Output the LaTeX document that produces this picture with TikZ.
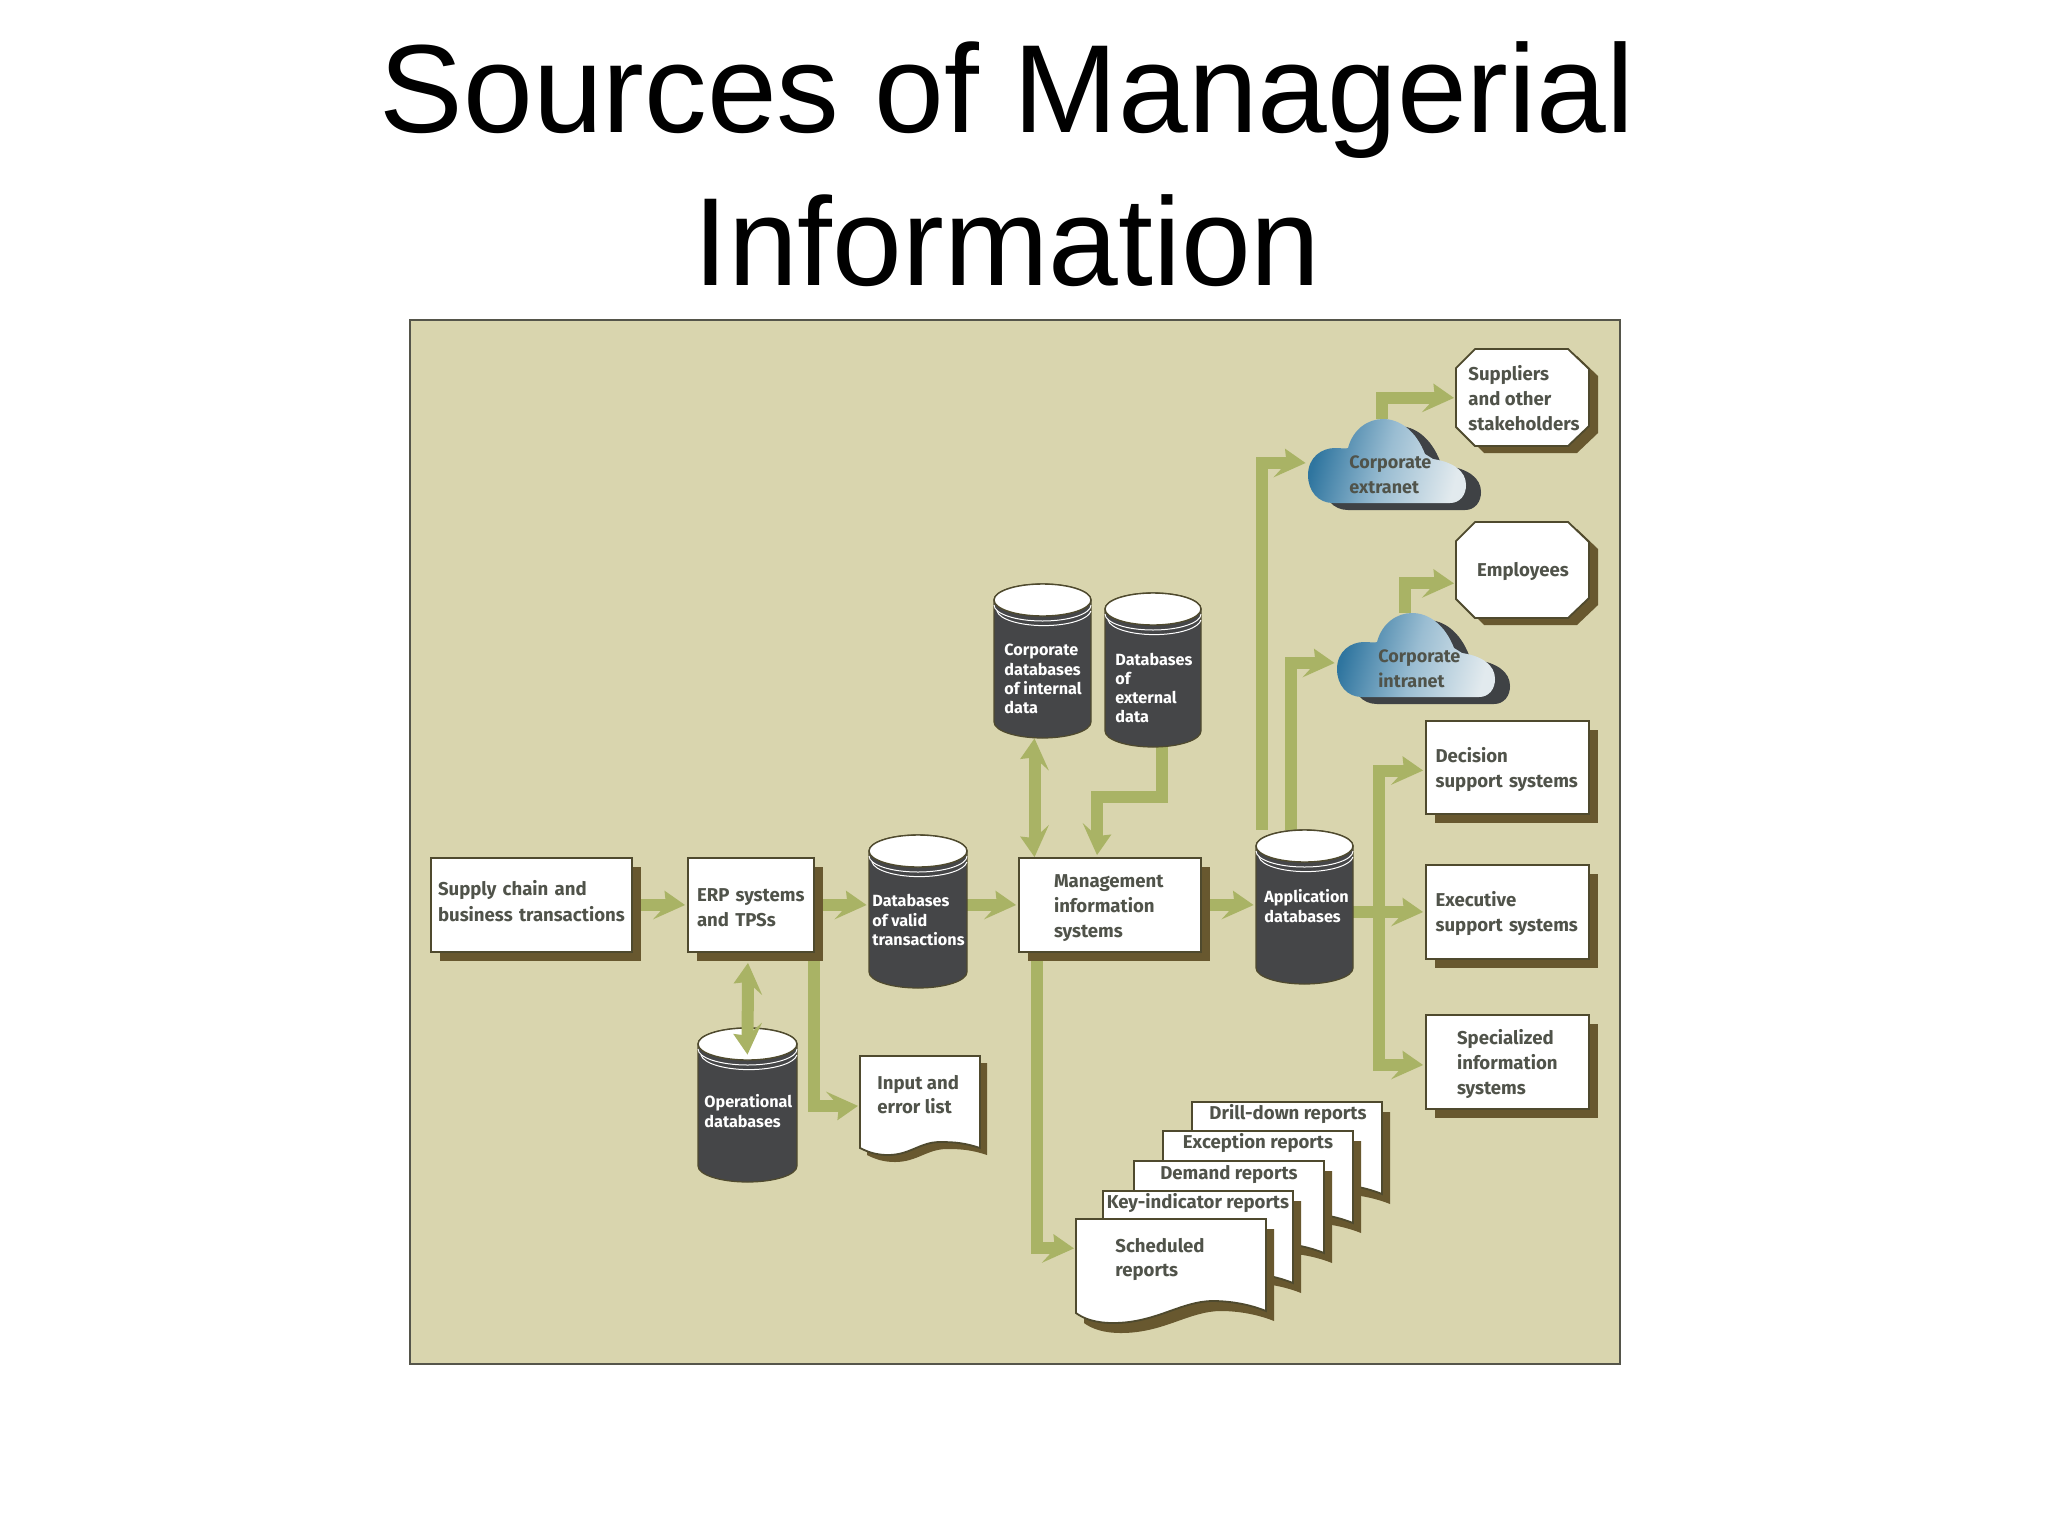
\documentclass[tikz,border=0pt]{standalone}
\usepackage{fontspec}
\setmainfont{Fira Sans}
\newfontfamily\titlefont{Liberation Sans}
\usetikzlibrary{arrows.meta,shadows}
\definecolor{panelc}{HTML}{D9D5AE}
\definecolor{panelb}{HTML}{55554A}
\definecolor{flowc}{HTML}{A9B365}
\definecolor{shadc}{HTML}{68582F}
\definecolor{edgec}{HTML}{4F4A2E}
\definecolor{txtc}{HTML}{50534A}
\definecolor{cylc}{HTML}{454648}
\definecolor{cldsh}{HTML}{3F4245}
\definecolor{cloudl}{HTML}{2F759F}
\definecolor{cloudm}{HTML}{9ABDD2}
\definecolor{cloudr}{HTML}{E2EAEE}
\pgfdeclarelayer{bgl}
\pgfdeclarelayer{arrowl}
\pgfsetlayers{bgl,arrowl,main}
\tikzset{
 headpos/.tip={Stealth[length=13pt,width=14pt,inset=3.5pt,slant=.4]},
 headneg/.tip={Stealth[length=13pt,width=14pt,inset=3.5pt,slant=-.4]},
 flow/.style={draw=flowc,line width=6pt,line join=miter,-headpos,shorten >=1pt},
 flowneg/.style={draw=flowc,line width=6pt,line join=miter,-headneg,shorten >=1pt},
 flowboth/.style={draw=flowc,line width=6pt,headpos-headneg},
 lbl/.style={text=txtc,font=\fontsize{9.3}{12.4}\selectfont\bfseries,align=left,inner sep=0pt},
 clbl/.style={text=white,font=\fontsize{8.1}{9.6}\selectfont\bfseries,align=left,inner sep=0pt},
 cloudlbl/.style={text=txtc,font=\fontsize{9}{12.3}\selectfont\bfseries,align=left,inner sep=0pt},
 box/.style={draw=edgec,line width=0.9pt,fill=white,rectangle,inner sep=0pt,lbl,
   execute at begin node={\hyphenpenalty=10000\rule{0pt}{9.4pt}},
   general shadow={fill=shadc,shadow xshift=4.5pt,shadow yshift=-4.5pt}},
 sheet/.style={draw=edgec,line width=0.9pt,fill=white},
 ghost/.style={inner sep=0pt,rectangle},
}
% name, x0, x1, top, bottom, text x, text y, text
\newcommand{\cyldb}[8]{%
 \pgfmathsetmacro\rx{(#3-#2)/4}
 \fill[cylc,draw=edgec,line width=0.6pt] (#2,#4+16) -- (#2,#5-16) arc[start angle=180,end angle=360,x radius=\rx pt,y radius=8pt] -- (#3,#4+16) arc[start angle=0,end angle=180,x radius=\rx pt,y radius=8pt] -- cycle;
 \draw[white,line width=0.5pt] (#2,#4+21) arc[start angle=180,end angle=360,x radius=\rx pt,y radius=8pt];
 \draw[white,line width=0.5pt] (#2+3,#4+27) arc[start angle=185,end angle=355,x radius=\rx pt-0.7pt,y radius=8pt];
 \fill[white,draw=edgec,line width=0.7pt] ({(#2+#3)/2},#4+16) ellipse[x radius=\rx pt,y radius=8pt];
 \node[ghost,minimum width=\rx*2 pt,minimum height={(#5-#4)/2*1pt}] (#1) at ({(#2+#3)/2},{(#4+#5)/2}) {};
 \node[clbl,anchor=west] (#1t) at (#6,#7) {#8};
}
% name, x, y, text
\newcommand{\cloudnode}[4]{%
 \begin{scope}[shift={(#2,#3)}]
 \def\cloudpath{(25,84) .. controls (10,84) and (0,72) .. (0,56) .. controls (0,38) and (14,29) .. (27,29) .. controls (33,29) and (38,30) .. (40,29) .. controls (45,10) and (60,0) .. (75,0) .. controls (92,0) and (108,12) .. (117,35) -- (125,40) .. controls (145,43) and (158,52) .. (158,66) .. controls (158,76) and (152,84) .. (142,84) -- cycle}
 \fill[cldsh,shift={(15,7)}] \cloudpath;
 \shade[shading=axis,left color=cloudl,right color=cloudr,middle color=cloudm,shading angle=75] \cloudpath;
 \node[ghost,minimum width=79pt,minimum height=42pt] (#1) at (79,42) {};
 \node[cloudlbl,anchor=west] (#1t) at (41,55.5) {#4};
 \end{scope}
}
\newcommand{\reportsheet}[3]{%
 \begin{scope}[shift={(#2,#3)}]
 \def\rpath{(0,0) -- (190,0) -- (190,92) .. controls (170,84) and (150,82) .. (137,82) .. controls (105,82) and (80,104) .. (37,104) .. controls (20,104) and (8,100) .. (0,94) -- cycle}
 \fill[shadc,shift={(8,10)}] \rpath;
 \draw[sheet] \rpath;
 \node[ghost,minimum width=95pt,minimum height=52pt,anchor=north west] (#1) at (0,0) {};
 \end{scope}
}
% name, x, y, height
\newcommand{\octnode}[4]{%
 \begin{scope}[shift={(#2,#3)}]
 \def\opath{(19,0) -- (112,0) -- (133,20) -- (133,#4-20) -- (112,#4) -- (19,#4) -- (0,#4-19) -- (0,19) -- cycle}
 \fill[shadc,shift={(9,7)}] \opath;
 \draw[sheet] \opath;
 \node[ghost,minimum width=66.5pt,minimum height=#4*0.5pt,anchor=north west] (#1) at (0,0) {};
 \end{scope}
}
\begin{document}
\begin{tikzpicture}[x=0.5pt,y=-0.5pt]
\useasboundingbox (0,0) rectangle (2048,1536);
\begin{pgfonlayer}{bgl}
\fill[white] (0,0) rectangle (2048,1536);
\draw[panelb,fill=panelc,line width=0.8pt] (410,320) rectangle (1620,1364);
\end{pgfonlayer}

\node[font=\titlefont\fontsize{62.7}{76.5}\selectfont,align=center,text=black,inner sep=0pt] (title) at (1007,164) {Sources of Managerial\\Information};

% rectangular boxes
\node[box,minimum width=100.5pt,minimum height=47pt,text width=93.5pt] (supply) at (531.5,905) {Supply chain and\\[0.4pt]business transactions\rule[-6pt]{0pt}{6pt}};
\node[box,minimum width=63pt,minimum height=47pt,text width=54pt] (erp) at (751,905) {\mbox{ERP systems}\\and TPSs};
\node[box,minimum width=91pt,minimum height=47pt,text width=56pt] (mis) at (1110,905) {Management\\information\\systems};
\node[box,minimum width=81.5pt,minimum height=46.5pt,text width=72pt] (decision) at (1507.5,767.5) {Decision\\support systems};
\node[box,minimum width=81.5pt,minimum height=47pt,text width=72pt] (executive) at (1507.5,912) {Executive\\support systems};
\node[box,minimum width=81.5pt,minimum height=47pt,text width=50.5pt] (special) at (1507.5,1062) {Specialized\\information\\systems};

% octagons
\octnode{suppliers}{1456}{349}{97}
\node[lbl,anchor=west] (supplierst) at (1468,398) {Suppliers\\and other\\stakeholders};
\octnode{employees}{1456}{522}{96}
\node[lbl] (employeest) at (1523,571) {Employees};

% cylinders
\cyldb{corpdb}{994}{1091}{584}{738}{1004}{679}{Corporate\\databases\\of internal\\data}
\cyldb{extdb}{1105}{1201}{593}{747}{1115}{688}{Databases\\of\\external\\data}
\cyldb{validdb}{869}{967}{835}{988}{872}{920}{Databases\\of valid\\transactions}
\cyldb{appdb}{1256}{1353}{830}{984}{1264}{906}{Application\\databases}
\cyldb{opdb}{698}{797}{1028}{1182}{704}{1111}{Operational\\databases}

% clouds
\cloudnode{extranet}{1308}{419}{Corporate\\extranet}
\cloudnode{intranet}{1337}{613}{Corporate\\intranet}

% input list
\begin{scope}[shift={(860,1056)}]
 \def\lpath{(0,0) -- (120,0) -- (120,92) .. controls (105,87) and (95,86) .. (80,86) .. controls (60,86) and (50,99) .. (28,99) .. controls (16,99) and (8,96) .. (0,92) -- cycle}
 \fill[shadc,shift={(7,7)}] \lpath;
 \draw[sheet] \lpath;
 \node[ghost,minimum width=60pt,minimum height=49.5pt,anchor=north west] (input) at (0,0) {};
 \node[lbl,anchor=north west] (inputt) at (17,18.5) {Input and\\error list};
\end{scope}

% reports
\reportsheet{drill}{1192}{1102}
\node[lbl] (drillt) at (1288,1114) {Drill-down reports};
\reportsheet{exception}{1163}{1131}
\node[lbl] (exceptiont) at (1258,1143.5) {Exception reports};
\reportsheet{demand}{1134}{1161}
\node[lbl] (demandt) at (1229,1174) {Demand reports};
\reportsheet{keyind}{1103}{1191}
\node[lbl] (keyindt) at (1198,1203) {Key-indicator reports};
\reportsheet{sched}{1076}{1219}
\node[lbl,anchor=north west] (schedt) at (1115,1237.5) {Scheduled\\reports};

\coordinate (extbend) at (1162,797);
\coordinate (trunk) at (1379,912);

\begin{pgfonlayer}{arrowl}
\draw[flow] (supply.east) -- (erp.west);
\draw[flow] (erp.east) -- (erp.east -| validdb.west);
\draw[flow] (validdb.east |- mis.west) -- (mis.west);
\draw[flow] (mis.east) -- (mis.east -| appdb.west);
\draw[flowneg] ([xshift=-0.5pt]erp.south east) |- (input.west);
\draw[flow] ([xshift=9.5pt]mis.south west) |- ([yshift=11.5pt]sched.west);
\draw[flowboth] ([xshift=-4pt]corpdb.south) -- ([xshift=-4pt]corpdb.south |- mis.north);
\draw[flow] ([xshift=4.5pt]extdb.south) -- (extbend) -| ([xshift=-6.5pt]mis.north);
\draw[flow] ([xshift=3pt]appdb.north west) |- ([yshift=-1pt]extranet.west);
\draw[flow] ([xshift=17.5pt]appdb.north west) |- ([yshift=-4pt]intranet.west);
\draw[flow] ([xshift=-2.5pt]extranet.north) |- (suppliers.west);
\draw[flow] ([xshift=-5.5pt]intranet.north) |- ([yshift=-6.5pt]employees.west);
\draw[flow] (appdb.east |- executive.west) -- (executive.west);
\draw[flow] (trunk) |- ([yshift=-1.5pt]decision.west);
\draw[flow] (trunk) |- ([yshift=-1.5pt]special.west);
\end{pgfonlayer}
\draw[flowboth] ([yshift=-5pt,xshift=-1.5pt]erp.south) -- ([yshift=-13.5pt]opdb.north);
\end{tikzpicture}
\end{document}
